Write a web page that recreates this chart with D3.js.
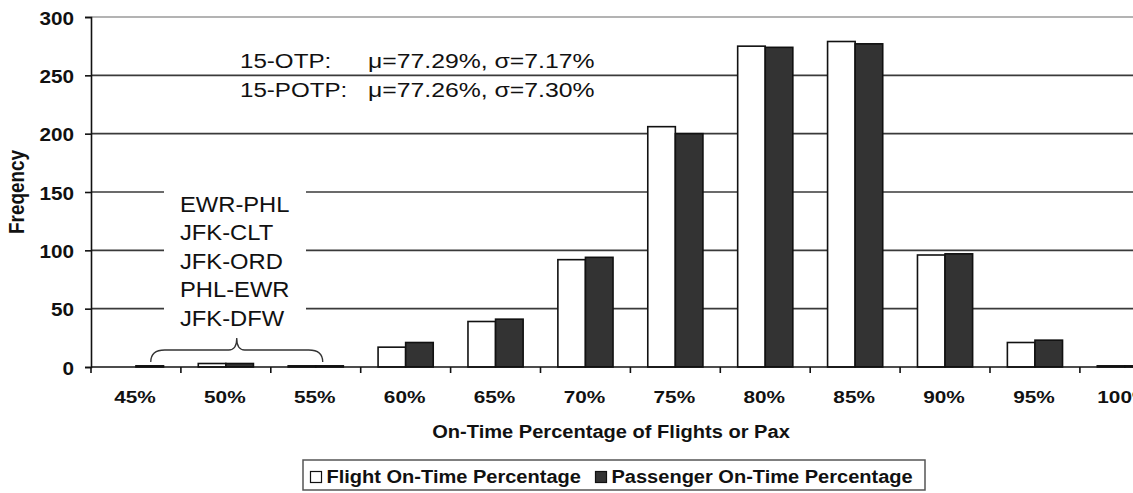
<!DOCTYPE html>
<html>
<head>
<meta charset="utf-8">
<script src="https://cdn.jsdelivr.net/npm/d3@7/dist/d3.min.js"></script>
<style>
  body { margin: 0; background: #fff; }
  svg { display: block; font-family: 'Liberation Sans', Arial, sans-serif; }
</style>
</head>
<body>
<div id="wrapper"></div>
<script>
// data
const categories = ['45%', '50%', '55%', '60%', '65%', '70%', '75%', '80%', '85%', '90%', '95%', '100%'];
const flightOTP = [0, 3, 1, 17, 39, 92, 206, 275, 279, 96, 21, 1];
const paxOTP = [1, 3, 1, 21, 41, 94, 200, 274, 277, 97, 23, 1];
const yTicks = [0, 50, 100, 150, 200, 250, 300];
const seriesNames = ['Flight On-Time Percentage', 'Passenger On-Time Percentage'];
const statLines = [
  ['15-OTP:', 'μ=77.29%, σ=7.17%'],
  ['15-POTP:', 'μ=77.26%, σ=7.30%'],
];
const routes = ['EWR-PHL', 'JFK-CLT', 'JFK-ORD', 'PHL-EWR', 'JFK-DFW'];

// 1. dimensions
const dimensions = {
  width: 1133,
  height: 493,
  margin: { top: 17, left: 91, bottom: 126 },
  step: 89.9,
};
dimensions.boundedHeight = dimensions.height - dimensions.margin.top - dimensions.margin.bottom;
dimensions.boundedWidth = dimensions.step * categories.length;

const svg = d3
  .select('#wrapper')
  .append('svg')
  .attr('width', dimensions.width)
  .attr('height', dimensions.height);

const bounds = svg
  .append('g')
  .attr('transform', `translate(${dimensions.margin.left},${dimensions.margin.top})`);

// 2. scales
const xScale = d3.scaleBand().domain(categories).range([0, dimensions.boundedWidth]);
const subScale = d3
  .scaleBand()
  .domain(['flight', 'pax'])
  .range([0, xScale.bandwidth()])
  .paddingOuter(0.63);
const yScale = d3.scaleLinear().domain([0, 300]).range([dimensions.boundedHeight, 0]);

// text is a little wider than the font (source image was stretched)
const stretchText = (sel, x, y, sx) =>
  sel.attr('transform', `translate(${x},${y}) scale(${sx},1)`);

// 3. gridlines
bounds
  .selectAll('.grid')
  .data(yTicks.filter((d) => d > 0))
  .join('line')
  .attr('class', 'grid')
  .attr('x1', 0)
  .attr('x2', dimensions.width)
  .attr('y1', (d) => yScale(d))
  .attr('y2', (d) => yScale(d))
  .attr('stroke', (d) => (d === 300 ? '#9a9a9a' : '#3a3a3a'))
  .attr('stroke-width', 1.6);

// 4. bars
const rows = categories.map((c, i) => ({ cat: c, flight: flightOTP[i], pax: paxOTP[i] }));
const groups = bounds
  .selectAll('.cat')
  .data(rows)
  .join('g')
  .attr('class', 'cat')
  .attr('transform', (d) => `translate(${xScale(d.cat)},0)`);

groups
  .selectAll('rect')
  .data((d) => [
    { key: 'flight', value: d.flight },
    { key: 'pax', value: d.pax },
  ])
  .join('rect')
  .filter((d) => d.value > 0)
  .attr('x', (d) => subScale(d.key))
  .attr('width', subScale.bandwidth())
  .attr('y', (d) => yScale(d.value))
  .attr('height', (d) => yScale(0) - yScale(d.value))
  .attr('fill', (d) => (d.key === 'flight' ? '#ffffff' : '#333333'))
  .attr('stroke', '#111')
  .attr('stroke-width', 1.6);

// 5. axes
const yAxis = bounds
  .append('g')
  .call(d3.axisLeft(yScale).tickValues(yTicks).tickSize(6).tickFormat(''));
yAxis.select('.domain').attr('stroke', '#111').attr('stroke-width', 1.6);
yAxis.selectAll('.tick line').attr('stroke', '#111').attr('stroke-width', 1.6);

yAxis
  .selectAll('.tick')
  .append('text')
  .text((d) => d)
  .attr('text-anchor', 'end')
  .attr('fill', '#111')
  .attr('font-weight', 'bold')
  .attr('font-size', 18.5)
  .each(function () {
    stretchText(d3.select(this), -17, 7, 1.12);
  });

const xAxis = bounds
  .append('g')
  .attr('transform', `translate(0,${dimensions.boundedHeight})`);
xAxis
  .append('line')
  .attr('x1', 0)
  .attr('x2', dimensions.width)
  .attr('stroke', '#111')
  .attr('stroke-width', 1.6);
xAxis
  .selectAll('.xtick')
  .data(categories)
  .join('line')
  .attr('class', 'xtick')
  .attr('x1', (d) => xScale(d))
  .attr('x2', (d) => xScale(d))
  .attr('y1', 0)
  .attr('y2', 6)
  .attr('stroke', '#111')
  .attr('stroke-width', 1.6);
xAxis
  .selectAll('.xlabel')
  .data(categories)
  .join('text')
  .attr('class', 'xlabel')
  .text((d) => d)
  .attr('text-anchor', 'middle')
  .attr('fill', '#111')
  .attr('font-weight', 'bold')
  .attr('font-size', 16.5)
  .each(function (d) {
    stretchText(d3.select(this), xScale(d) + xScale.bandwidth() / 2 - 1, 36, 1.26);
  });

// axis titles
svg
  .append('text')
  .text('Freqency')
  .attr('text-anchor', 'middle')
  .attr('font-weight', 'bold')
  .attr('font-size', 18)
  .attr('fill', '#111')
  .attr('transform', `translate(24,${dimensions.margin.top + dimensions.boundedHeight / 2}) rotate(-90) scale(1.05,1.18)`);

stretchText(
  svg
    .append('text')
    .text('On-Time Percentage of Flights or Pax')
    .attr('text-anchor', 'middle')
    .attr('font-weight', 'bold')
    .attr('font-size', 18.5)
    .attr('fill', '#111'),
  611,
  438,
  1.085
);

// 6. annotations
const stats = svg.append('g');
statLines.forEach((line, i) => {
  const y = 68 + i * 29;
  stretchText(stats.append('text').text(line[0]), 240, y, 1.15);
  stretchText(stats.append('text').text(line[1]), 368, y, 1.18);
});
stats.selectAll('text').attr('font-size', 21).attr('fill', '#111');

const routeBox = svg.append('g');
routeBox
  .append('rect')
  .attr('x', 164)
  .attr('y', 183)
  .attr('width', 142)
  .attr('height', 150)
  .attr('fill', '#fff');
routeBox
  .selectAll('text')
  .data(routes)
  .join('text')
  .text((d) => d)
  .attr('font-size', 22)
  .attr('fill', '#111')
  .each(function (d, i) {
    stretchText(d3.select(this), 180, 212 + i * 28.4, 1.08);
  });

// brace over the 45%-55% bins
const braceL = xScale('45%') + subScale('pax') + subScale.bandwidth() / 2 + 1;
const braceR = xScale('55%') + subScale('pax') + 7;
const braceMid = (braceL + braceR) / 2;
const by = yScale(0) + dimensions.margin.top - 5;
const braceTop = by - 24;
const braceBar = by - 12;
svg
  .append('path')
  .attr('transform', `translate(${dimensions.margin.left},0)`)
  .attr(
    'd',
    `M${braceL},${by} Q${braceL},${braceBar} ${braceL + 14},${braceBar}` +
      ` L${braceMid - 8},${braceBar} Q${braceMid},${braceBar} ${braceMid},${braceTop}` +
      ` Q${braceMid},${braceBar} ${braceMid + 8},${braceBar}` +
      ` L${braceR - 14},${braceBar} Q${braceR},${braceBar} ${braceR},${by}`
  )
  .attr('fill', 'none')
  .attr('stroke', '#333')
  .attr('stroke-width', 1.3);

// 7. legend
const legend = svg.append('g');
legend
  .append('rect')
  .attr('x', 303)
  .attr('y', 460)
  .attr('width', 622)
  .attr('height', 30)
  .attr('fill', '#fff')
  .attr('stroke', '#555')
  .attr('stroke-width', 1.5);
const legendItems = [
  { name: seriesNames[0], fill: '#ffffff', x: 310.5 },
  { name: seriesNames[1], fill: '#333333', x: 595.5 },
];
legendItems.forEach((item) => {
  legend
    .append('rect')
    .attr('x', item.x)
    .attr('y', 471.5)
    .attr('width', 11)
    .attr('height', 11)
    .attr('fill', item.fill)
    .attr('stroke', '#111')
    .attr('stroke-width', 1.2);
  stretchText(
    legend
      .append('text')
      .text(item.name)
      .attr('font-weight', 'bold')
      .attr('font-size', 17.5)
      .attr('fill', '#111'),
    item.x + 16,
    483,
    1.145
  );
});
</script>
</body>
</html>
